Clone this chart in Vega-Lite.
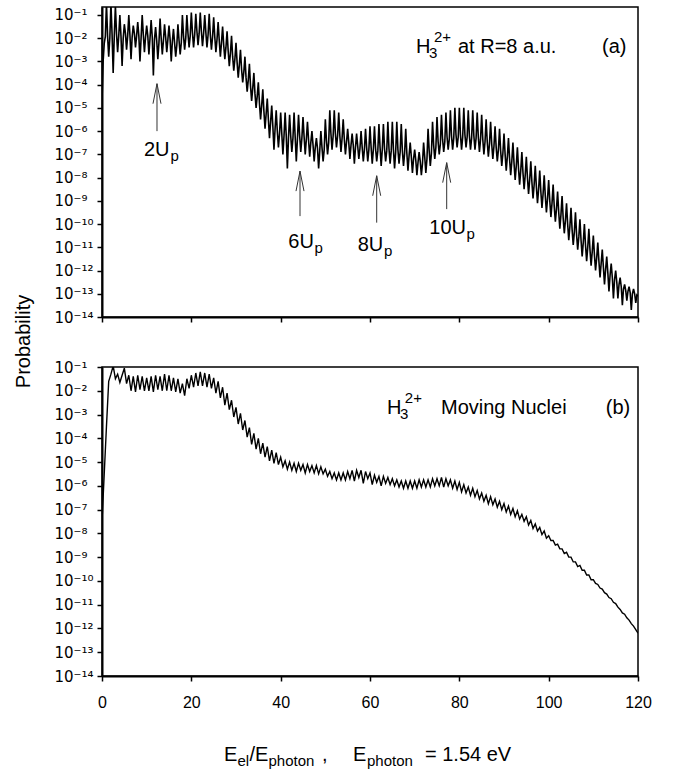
{
"$schema": "https://vega.github.io/schema/vega-lite/v6.json",
"padding": {"left": 12, "top": 6, "right": 5, "bottom": 2},
"bounds": "flush",
"spacing": 50,
"config": {
  "font": "Liberation Sans",
  "view": {"stroke": "black", "strokeWidth": 1.5},
  "axis": {"domainColor": "black", "domainWidth": 2, "tickColor": "black", "tickWidth": 1.5, "tickSize": 5, "labelColor": "black", "labelFontSize": 16, "labelFont": "Liberation Sans", "grid": false, "titleColor": "black", "labelOverlap": false, "labelFlush": false}
},
"datasets": {
"a": [
{"x":0,"y":2e-5},{"x":0.25,"y":1e-3},{"x":0.5,"y":6e-3},{"x":0.75,"y":1.2e-2},
{"x":1,"y":0.32},{"x":1.25,"y":1.26e-2},{"x":1.5,"y":1.6e-3},{"x":1.75,"y":1e-2},
{"x":2,"y":0.32},{"x":2.25,"y":1.6e-2},{"x":2.5,"y":3.2e-4},{"x":2.75,"y":1.26e-2},
{"x":3,"y":0.25},{"x":3.25,"y":1.6e-2},{"x":3.5,"y":2.5e-3},{"x":3.75,"y":1.26e-2},
{"x":4,"y":0.1},{"x":4.25,"y":1.26e-2},{"x":4.5,"y":6.3e-4},{"x":4.75,"y":1e-2},
{"x":5,"y":4e-2},{"x":5.25,"y":1.6e-2},{"x":5.5,"y":3.2e-3},{"x":5.75,"y":1.26e-2},
{"x":6,"y":0.1},{"x":6.25,"y":1.41e-2},{"x":6.5,"y":1.26e-3},{"x":6.75,"y":1.12e-2},
{"x":7,"y":3.5e-2},{"x":7.25,"y":1.6e-2},{"x":7.5,"y":4e-3},{"x":7.75,"y":1.26e-2},
{"x":8,"y":5e-2},{"x":8.25,"y":1.26e-2},{"x":8.5,"y":1e-3},{"x":8.75,"y":1e-2},
{"x":9,"y":0.1},{"x":9.25,"y":1.41e-2},{"x":9.5,"y":2.5e-3},{"x":9.75,"y":1.12e-2},
{"x":10,"y":3.5e-2},{"x":10.25,"y":1.26e-2},{"x":10.5,"y":2e-3},{"x":10.75,"y":1e-2},
{"x":11,"y":6e-2},{"x":11.25,"y":1.12e-2},{"x":11.5,"y":2.5e-4},{"x":11.75,"y":8.9e-3},
{"x":12,"y":3e-2},{"x":12.25,"y":7.9e-3},{"x":12.5,"y":1.26e-3},{"x":12.75,"y":6.3e-3},
{"x":13,"y":7e-2},{"x":13.25,"y":1e-2},{"x":13.5,"y":2e-3},{"x":13.75,"y":7.9e-3},
{"x":14,"y":4e-2},{"x":14.25,"y":1.12e-2},{"x":14.5,"y":2.5e-3},{"x":14.75,"y":8.9e-3},
{"x":15,"y":3.5e-2},{"x":15.25,"y":8.9e-3},{"x":15.5,"y":1e-3},{"x":15.75,"y":7.1e-3},
{"x":16,"y":2.5e-2},{"x":16.25,"y":6.3e-3},{"x":16.5,"y":1.6e-3},{"x":16.75,"y":5e-3},
{"x":17,"y":4e-2},{"x":17.25,"y":7.9e-3},{"x":17.5,"y":2e-3},{"x":17.75,"y":6.3e-3},
{"x":18,"y":0.1},{"x":18.25,"y":1.26e-2},{"x":18.5,"y":3.2e-3},{"x":18.75,"y":1e-2},
{"x":19,"y":0.1},{"x":19.25,"y":1.6e-2},{"x":19.5,"y":4e-3},{"x":19.75,"y":1.26e-2},
{"x":20,"y":0.126},{"x":20.25,"y":1.78e-2},{"x":20.5,"y":4e-3},{"x":20.75,"y":1.41e-2},
{"x":21,"y":0.112},{"x":21.25,"y":2e-2},{"x":21.5,"y":5e-3},{"x":21.75,"y":1.6e-2},
{"x":22,"y":0.126},{"x":22.25,"y":2e-2},{"x":22.5,"y":4.5e-3},{"x":22.75,"y":1.6e-2},
{"x":23,"y":0.1},{"x":23.25,"y":1.78e-2},{"x":23.5,"y":4e-3},{"x":23.75,"y":1.41e-2},
{"x":24,"y":0.112},{"x":24.25,"y":1.41e-2},{"x":24.5,"y":3.2e-3},{"x":24.75,"y":1.12e-2},
{"x":25,"y":7.9e-2},{"x":25.25,"y":1.12e-2},{"x":25.5,"y":2.5e-3},{"x":25.75,"y":8.9e-3},
{"x":26,"y":5e-2},{"x":26.25,"y":7.9e-3},{"x":26.5,"y":1.6e-3},{"x":26.75,"y":6.3e-3},
{"x":27,"y":3.2e-2},{"x":27.25,"y":5e-3},{"x":27.5,"y":1.26e-3},{"x":27.75,"y":4e-3},
{"x":28,"y":2e-2},{"x":28.25,"y":2.8e-3},{"x":28.5,"y":6.3e-4},{"x":28.75,"y":2.24e-3},
{"x":29,"y":1.26e-2},{"x":29.25,"y":1.6e-3},{"x":29.5,"y":4e-4},{"x":29.75,"y":1.26e-3},
{"x":30,"y":6.3e-3},{"x":30.25,"y":8.9e-4},{"x":30.5,"y":2e-4},{"x":30.75,"y":7.1e-4},
{"x":31,"y":3.2e-3},{"x":31.25,"y":4.5e-4},{"x":31.5,"y":1.26e-4},{"x":31.75,"y":3.5e-4},
{"x":32,"y":1.6e-3},{"x":32.25,"y":2e-4},{"x":32.5,"y":5e-5},{"x":32.75,"y":1.6e-4},
{"x":33,"y":7.9e-4},{"x":33.25,"y":8.9e-5},{"x":33.5,"y":2e-5},{"x":33.75,"y":7.1e-5},
{"x":34,"y":3.2e-4},{"x":34.25,"y":4e-5},{"x":34.5,"y":1e-5},{"x":34.75,"y":3.2e-5},
{"x":35,"y":1.26e-4},{"x":35.25,"y":1.6e-5},{"x":35.5,"y":3.2e-6},{"x":35.75,"y":1.26e-5},
{"x":36,"y":6.3e-5},{"x":36.25,"y":7.1e-6},{"x":36.5,"y":1.26e-6},{"x":36.75,"y":5.6e-6},
{"x":37,"y":2.5e-5},{"x":37.25,"y":3.2e-6},{"x":37.5,"y":5e-7},{"x":37.75,"y":2.5e-6},
{"x":38,"y":1.26e-5},{"x":38.25,"y":1.6e-6},{"x":38.5,"y":1.6e-7},{"x":38.75,"y":1.26e-6},
{"x":39,"y":7.9e-6},{"x":39.25,"y":1e-6},{"x":39.5,"y":2e-7},{"x":39.75,"y":7.9e-7},
{"x":40,"y":6.3e-6},{"x":40.25,"y":7.9e-7},{"x":40.5,"y":1e-7},{"x":40.75,"y":6.3e-7},
{"x":41,"y":6.3e-6},{"x":41.25,"y":6.3e-7},{"x":41.5,"y":2.5e-8},{"x":41.75,"y":5e-7},
{"x":42,"y":5e-6},{"x":42.25,"y":6.3e-7},{"x":42.5,"y":1.26e-7},{"x":42.75,"y":5e-7},
{"x":43,"y":6.3e-6},{"x":43.25,"y":5.6e-7},{"x":43.5,"y":5e-8},{"x":43.75,"y":4.5e-7},
{"x":44,"y":5e-6},{"x":44.25,"y":6.3e-7},{"x":44.5,"y":1.26e-7},{"x":44.75,"y":5e-7},
{"x":45,"y":4e-6},{"x":45.25,"y":5.6e-7},{"x":45.5,"y":1e-7},{"x":45.75,"y":4.5e-7},
{"x":46,"y":2.5e-6},{"x":46.25,"y":4e-7},{"x":46.5,"y":7.9e-8},{"x":46.75,"y":3.2e-7},
{"x":47,"y":1e-6},{"x":47.25,"y":2.5e-7},{"x":47.5,"y":5e-8},{"x":47.75,"y":2e-7},
{"x":48,"y":5e-7},{"x":48.25,"y":1.78e-7},{"x":48.5,"y":2.5e-8},{"x":48.75,"y":1.41e-7},
{"x":49,"y":1e-6},{"x":49.25,"y":2e-7},{"x":49.5,"y":5e-8},{"x":49.75,"y":1.6e-7},
{"x":50,"y":3.2e-6},{"x":50.25,"y":4e-7},{"x":50.5,"y":1e-7},{"x":50.75,"y":3.2e-7},
{"x":51,"y":7.9e-6},{"x":51.25,"y":7.9e-7},{"x":51.5,"y":1.6e-7},{"x":51.75,"y":6.3e-7},
{"x":52,"y":7.9e-6},{"x":52.25,"y":7.9e-7},{"x":52.5,"y":2e-7},{"x":52.75,"y":6.3e-7},
{"x":53,"y":6.3e-6},{"x":53.25,"y":6.3e-7},{"x":53.5,"y":1.26e-7},{"x":53.75,"y":5e-7},
{"x":54,"y":3.2e-6},{"x":54.25,"y":4.5e-7},{"x":54.5,"y":1e-7},{"x":54.75,"y":3.5e-7},
{"x":55,"y":1.26e-6},{"x":55.25,"y":3.2e-7},{"x":55.5,"y":6.3e-8},{"x":55.75,"y":2.5e-7},
{"x":56,"y":7.9e-7},{"x":56.25,"y":2.5e-7},{"x":56.5,"y":4e-8},{"x":56.75,"y":2e-7},
{"x":57,"y":7.9e-7},{"x":57.25,"y":2.24e-7},{"x":57.5,"y":6.3e-8},{"x":57.75,"y":1.78e-7},
{"x":58,"y":1e-6},{"x":58.25,"y":2e-7},{"x":58.5,"y":5e-8},{"x":58.75,"y":1.6e-7},
{"x":59,"y":1.26e-6},{"x":59.25,"y":2e-7},{"x":59.5,"y":5e-8},{"x":59.75,"y":1.6e-7},
{"x":60,"y":1.6e-6},{"x":60.25,"y":2e-7},{"x":60.5,"y":4e-8},{"x":60.75,"y":1.6e-7},
{"x":61,"y":1.6e-6},{"x":61.25,"y":1.78e-7},{"x":61.5,"y":5e-8},{"x":61.75,"y":1.41e-7},
{"x":62,"y":2e-6},{"x":62.25,"y":2e-7},{"x":62.5,"y":3.2e-8},{"x":62.75,"y":1.6e-7},
{"x":63,"y":2e-6},{"x":63.25,"y":1.78e-7},{"x":63.5,"y":5e-8},{"x":63.75,"y":1.41e-7},
{"x":64,"y":2.5e-6},{"x":64.25,"y":1.78e-7},{"x":64.5,"y":4e-8},{"x":64.75,"y":1.41e-7},
{"x":65,"y":2.5e-6},{"x":65.25,"y":1.6e-7},{"x":65.5,"y":2.5e-8},{"x":65.75,"y":1.26e-7},
{"x":66,"y":2.5e-6},{"x":66.25,"y":1.6e-7},{"x":66.5,"y":4e-8},{"x":66.75,"y":1.26e-7},
{"x":67,"y":2e-6},{"x":67.25,"y":1.41e-7},{"x":67.5,"y":3.2e-8},{"x":67.75,"y":1.12e-7},
{"x":68,"y":1.26e-6},{"x":68.25,"y":1.12e-7},{"x":68.5,"y":2e-8},{"x":68.75,"y":8.9e-8},
{"x":69,"y":3.2e-7},{"x":69.25,"y":7.9e-8},{"x":69.5,"y":1.6e-8},{"x":69.75,"y":6.3e-8},
{"x":70,"y":1.6e-7},{"x":70.25,"y":5.6e-8},{"x":70.5,"y":1.26e-8},{"x":70.75,"y":4.5e-8},
{"x":71,"y":1.26e-7},{"x":71.25,"y":5e-8},{"x":71.5,"y":1.26e-8},{"x":71.75,"y":4e-8},
{"x":72,"y":3.2e-7},{"x":72.25,"y":7.9e-8},{"x":72.5,"y":1.6e-8},{"x":72.75,"y":6.3e-8},
{"x":73,"y":1.26e-6},{"x":73.25,"y":1.41e-7},{"x":73.5,"y":3.2e-8},{"x":73.75,"y":1.12e-7},
{"x":74,"y":2.5e-6},{"x":74.25,"y":2.5e-7},{"x":74.5,"y":6.3e-8},{"x":74.75,"y":2e-7},
{"x":75,"y":4e-6},{"x":75.25,"y":3.5e-7},{"x":75.5,"y":1e-7},{"x":75.75,"y":2.8e-7},
{"x":76,"y":5e-6},{"x":76.25,"y":4.5e-7},{"x":76.5,"y":1.26e-7},{"x":76.75,"y":3.5e-7},
{"x":77,"y":6.3e-6},{"x":77.25,"y":5.6e-7},{"x":77.5,"y":1.6e-7},{"x":77.75,"y":4.5e-7},
{"x":78,"y":7.9e-6},{"x":78.25,"y":6.3e-7},{"x":78.5,"y":1.6e-7},{"x":78.75,"y":5e-7},
{"x":79,"y":1e-5},{"x":79.25,"y":7.1e-7},{"x":79.5,"y":2e-7},{"x":79.75,"y":5.6e-7},
{"x":80,"y":1e-5},{"x":80.25,"y":7.1e-7},{"x":80.5,"y":1.6e-7},{"x":80.75,"y":5.6e-7},
{"x":81,"y":1e-5},{"x":81.25,"y":7.1e-7},{"x":81.5,"y":2e-7},{"x":81.75,"y":5.6e-7},
{"x":82,"y":7.9e-6},{"x":82.25,"y":6.3e-7},{"x":82.5,"y":1.6e-7},{"x":82.75,"y":5e-7},
{"x":83,"y":7.9e-6},{"x":83.25,"y":6.3e-7},{"x":83.5,"y":1.6e-7},{"x":83.75,"y":5e-7},
{"x":84,"y":6.3e-6},{"x":84.25,"y":5.6e-7},{"x":84.5,"y":1.26e-7},{"x":84.75,"y":4.5e-7},
{"x":85,"y":5e-6},{"x":85.25,"y":4.5e-7},{"x":85.5,"y":1e-7},{"x":85.75,"y":3.5e-7},
{"x":86,"y":3.2e-6},{"x":86.25,"y":3.5e-7},{"x":86.5,"y":7.9e-8},{"x":86.75,"y":2.8e-7},
{"x":87,"y":2.5e-6},{"x":87.25,"y":2.8e-7},{"x":87.5,"y":6.3e-8},{"x":87.75,"y":2.24e-7},
{"x":88,"y":1.6e-6},{"x":88.25,"y":2e-7},{"x":88.5,"y":5e-8},{"x":88.75,"y":1.6e-7},
{"x":89,"y":1.26e-6},{"x":89.25,"y":1.41e-7},{"x":89.5,"y":3.2e-8},{"x":89.75,"y":1.12e-7},
{"x":90,"y":7.9e-7},{"x":90.25,"y":1e-7},{"x":90.5,"y":2e-8},{"x":90.75,"y":7.9e-8},
{"x":91,"y":5e-7},{"x":91.25,"y":6.3e-8},{"x":91.5,"y":1.26e-8},{"x":91.75,"y":5e-8},
{"x":92,"y":3.2e-7},{"x":92.25,"y":4e-8},{"x":92.5,"y":7.9e-9},{"x":92.75,"y":3.2e-8},
{"x":93,"y":2e-7},{"x":93.25,"y":2.5e-8},{"x":93.5,"y":5e-9},{"x":93.75,"y":2e-8},
{"x":94,"y":1.26e-7},{"x":94.25,"y":1.6e-8},{"x":94.5,"y":3.2e-9},{"x":94.75,"y":1.26e-8},
{"x":95,"y":7.9e-8},{"x":95.25,"y":1e-8},{"x":95.5,"y":2e-9},{"x":95.75,"y":7.9e-9},
{"x":96,"y":5e-8},{"x":96.25,"y":6.3e-9},{"x":96.5,"y":1.26e-9},{"x":96.75,"y":5e-9},
{"x":97,"y":3.2e-8},{"x":97.25,"y":4e-9},{"x":97.5,"y":7.9e-10},{"x":97.75,"y":3.2e-9},
{"x":98,"y":2e-8},{"x":98.25,"y":2.5e-9},{"x":98.5,"y":5e-10},{"x":98.75,"y":2e-9},
{"x":99,"y":1.26e-8},{"x":99.25,"y":1.6e-9},{"x":99.5,"y":3.2e-10},{"x":99.75,"y":1.26e-9},
{"x":100,"y":7.9e-9},{"x":100.25,"y":1e-9},{"x":100.5,"y":2e-10},{"x":100.75,"y":7.9e-10},
{"x":101,"y":5e-9},{"x":101.25,"y":5.6e-10},{"x":101.5,"y":1.26e-10},{"x":101.75,"y":4.5e-10},
{"x":102,"y":2.5e-9},{"x":102.25,"y":3.2e-10},{"x":102.5,"y":6.3e-11},{"x":102.75,"y":2.5e-10},
{"x":103,"y":1.6e-9},{"x":103.25,"y":1.78e-10},{"x":103.5,"y":4e-11},{"x":103.75,"y":1.41e-10},
{"x":104,"y":7.9e-10},{"x":104.25,"y":1e-10},{"x":104.5,"y":2e-11},{"x":104.75,"y":7.9e-11},
{"x":105,"y":5e-10},{"x":105.25,"y":5.6e-11},{"x":105.5,"y":1.26e-11},{"x":105.75,"y":4.5e-11},
{"x":106,"y":3.2e-10},{"x":106.25,"y":3.5e-11},{"x":106.5,"y":7.9e-12},{"x":106.75,"y":2.8e-11},
{"x":107,"y":1.6e-10},{"x":107.25,"y":2e-11},{"x":107.5,"y":4e-12},{"x":107.75,"y":1.6e-11},
{"x":108,"y":1e-10},{"x":108.25,"y":1.26e-11},{"x":108.5,"y":2.5e-12},{"x":108.75,"y":1e-11},
{"x":109,"y":6.3e-11},{"x":109.25,"y":7.9e-12},{"x":109.5,"y":1.6e-12},{"x":109.75,"y":6.3e-12},
{"x":110,"y":3.2e-11},{"x":110.25,"y":4.5e-12},{"x":110.5,"y":1e-12},{"x":110.75,"y":3.5e-12},
{"x":111,"y":1.6e-11},{"x":111.25,"y":2.5e-12},{"x":111.5,"y":5e-13},{"x":111.75,"y":2e-12},
{"x":112,"y":7.9e-12},{"x":112.25,"y":1.41e-12},{"x":112.5,"y":2.5e-13},{"x":112.75,"y":1.12e-12},
{"x":113,"y":4e-12},{"x":113.25,"y":7.9e-13},{"x":113.5,"y":1.26e-13},{"x":113.75,"y":6.3e-13},
{"x":114,"y":2e-12},{"x":114.25,"y":5e-13},{"x":114.5,"y":6.3e-14},{"x":114.75,"y":4e-13},
{"x":115,"y":1e-12},{"x":115.25,"y":3.2e-13},{"x":115.5,"y":6.3e-14},{"x":115.75,"y":2.5e-13},
{"x":116,"y":5e-13},{"x":116.25,"y":2e-13},{"x":116.5,"y":3.2e-14},{"x":116.75,"y":1.6e-13},
{"x":117,"y":2.5e-13},{"x":117.25,"y":1.41e-13},{"x":117.5,"y":5e-14},{"x":117.75,"y":1.26e-13},
{"x":118,"y":2e-13},{"x":118.25,"y":1.12e-13},{"x":118.5,"y":2e-14},{"x":118.75,"y":1e-13},
{"x":119,"y":1.6e-13},{"x":119.25,"y":1e-13},{"x":119.5,"y":4e-14},{"x":119.75,"y":8.9e-14},
{"x":120,"y":7.9e-14}
],
"b": [
{"x":0,"y":3.2e-8},{"x":0.5,"y":3.2e-6},{"x":1,"y":3.2e-4},{"x":1.5,"y":2.5e-2},{"x":2,"y":5e-2},{"x":2.5,"y":0.112},{"x":3,"y":3.2e-2},{"x":3.5,"y":5e-2},{"x":4,"y":2.24e-2},{"x":4.5,"y":4.5e-2},
{"x":5,"y":8.9e-2},{"x":5.5,"y":2e-2},{"x":6,"y":4.5e-2},{"x":6.5,"y":1e-2},{"x":7,"y":4e-2},{"x":7.5,"y":8.9e-3},{"x":8,"y":4.5e-2},{"x":8.5,"y":1.12e-2},{"x":9,"y":4e-2},{"x":9.5,"y":1e-2},
{"x":10,"y":3.5e-2},{"x":10.5,"y":1e-2},{"x":11,"y":4e-2},{"x":11.5,"y":8.9e-3},{"x":12,"y":4.5e-2},{"x":12.5,"y":1.12e-2},{"x":13,"y":4e-2},{"x":13.5,"y":1e-2},{"x":14,"y":5e-2},{"x":14.5,"y":1e-2},
{"x":15,"y":4.5e-2},{"x":15.5,"y":1e-2},{"x":16,"y":3.5e-2},{"x":16.5,"y":8.9e-3},{"x":17,"y":3.2e-2},{"x":17.5,"y":7.9e-3},{"x":18,"y":2e-2},{"x":18.5,"y":6.3e-3},{"x":19,"y":3.2e-2},{"x":19.5,"y":1.26e-2},
{"x":20,"y":4.5e-2},{"x":20.5,"y":1.41e-2},{"x":21,"y":5.6e-2},{"x":21.5,"y":1.6e-2},{"x":22,"y":6.3e-2},{"x":22.5,"y":1.6e-2},{"x":23,"y":5.6e-2},{"x":23.5,"y":1.41e-2},{"x":24,"y":5e-2},{"x":24.5,"y":1.26e-2},
{"x":25,"y":3.5e-2},{"x":25.5,"y":7.9e-3},{"x":26,"y":2.5e-2},{"x":26.5,"y":5e-3},{"x":27,"y":1.41e-2},{"x":27.5,"y":2.5e-3},{"x":28,"y":7.9e-3},{"x":28.5,"y":1.6e-3},{"x":29,"y":4e-3},{"x":29.5,"y":7.9e-4},
{"x":30,"y":2e-3},{"x":30.5,"y":4e-4},{"x":31,"y":1.12e-3},{"x":31.5,"y":2.24e-4},{"x":32,"y":5.6e-4},{"x":32.5,"y":1.12e-4},{"x":33,"y":2.8e-4},{"x":33.5,"y":5.6e-5},{"x":34,"y":1.6e-4},{"x":34.5,"y":3.5e-5},
{"x":35,"y":1e-4},{"x":35.5,"y":2.24e-5},{"x":36,"y":6.3e-5},{"x":36.5,"y":1.6e-5},{"x":37,"y":4.5e-5},{"x":37.5,"y":1.12e-5},{"x":38,"y":3.2e-5},{"x":38.5,"y":8.9e-6},{"x":39,"y":2.5e-5},{"x":39.5,"y":7.9e-6},
{"x":40,"y":1.6e-5},{"x":40.5,"y":6.3e-6},{"x":41,"y":1.12e-5},{"x":41.5,"y":5e-6},{"x":42,"y":1e-5},{"x":42.5,"y":4.5e-6},{"x":43,"y":8.9e-6},{"x":43.5,"y":4e-6},{"x":44,"y":8.9e-6},{"x":44.5,"y":4.5e-6},
{"x":45,"y":7.9e-6},{"x":45.5,"y":3.5e-6},{"x":46,"y":7.9e-6},{"x":46.5,"y":4e-6},{"x":47,"y":7.1e-6},{"x":47.5,"y":3.5e-6},{"x":48,"y":7.1e-6},{"x":48.5,"y":3.2e-6},{"x":49,"y":6.3e-6},{"x":49.5,"y":3.2e-6},
{"x":50,"y":5e-6},{"x":50.5,"y":2.5e-6},{"x":51,"y":4e-6},{"x":51.5,"y":2e-6},{"x":52,"y":3.5e-6},{"x":52.5,"y":1.78e-6},{"x":53,"y":3.5e-6},{"x":53.5,"y":1.78e-6},{"x":54,"y":3.5e-6},{"x":54.5,"y":1.78e-6},
{"x":55,"y":4e-6},{"x":55.5,"y":2e-6},{"x":56,"y":4.5e-6},{"x":56.5,"y":1.6e-6},{"x":57,"y":4.5e-6},{"x":57.5,"y":2.24e-6},{"x":58,"y":4.5e-6},{"x":58.5,"y":1.26e-6},{"x":59,"y":4e-6},{"x":59.5,"y":2e-6},
{"x":60,"y":3.5e-6},{"x":60.5,"y":1.12e-6},{"x":61,"y":2.8e-6},{"x":61.5,"y":1.41e-6},{"x":62,"y":2.5e-6},{"x":62.5,"y":1e-6},{"x":63,"y":2.5e-6},{"x":63.5,"y":1.26e-6},{"x":64,"y":2.24e-6},{"x":64.5,"y":1.12e-6},
{"x":65,"y":2e-6},{"x":65.5,"y":1e-6},{"x":66,"y":1.78e-6},{"x":66.5,"y":8.9e-7},{"x":67,"y":1.6e-6},{"x":67.5,"y":7.9e-7},{"x":68,"y":1.6e-6},{"x":68.5,"y":7.9e-7},{"x":69,"y":1.6e-6},{"x":69.5,"y":7.9e-7},
{"x":70,"y":1.6e-6},{"x":70.5,"y":7.9e-7},{"x":71,"y":1.78e-6},{"x":71.5,"y":8.9e-7},{"x":72,"y":1.78e-6},{"x":72.5,"y":8.9e-7},{"x":73,"y":1.78e-6},{"x":73.5,"y":8.9e-7},{"x":74,"y":2e-6},{"x":74.5,"y":1e-6},
{"x":75,"y":2e-6},{"x":75.5,"y":1e-6},{"x":76,"y":2.24e-6},{"x":76.5,"y":8.9e-7},{"x":77,"y":2e-6},{"x":77.5,"y":1e-6},{"x":78,"y":1.78e-6},{"x":78.5,"y":7.9e-7},{"x":79,"y":1.6e-6},{"x":79.5,"y":7.1e-7},
{"x":80,"y":1.41e-6},{"x":80.5,"y":5.6e-7},{"x":81,"y":1.12e-6},{"x":81.5,"y":5e-7},{"x":82,"y":8.9e-7},{"x":82.5,"y":4e-7},{"x":83,"y":7.9e-7},{"x":83.5,"y":3.5e-7},{"x":84,"y":6.3e-7},{"x":84.5,"y":2.8e-7},
{"x":85,"y":5e-7},{"x":85.5,"y":2.24e-7},{"x":86,"y":4e-7},{"x":86.5,"y":1.78e-7},{"x":87,"y":3.5e-7},{"x":87.5,"y":1.6e-7},{"x":88,"y":2.8e-7},{"x":88.5,"y":1.26e-7},{"x":89,"y":2.24e-7},{"x":89.5,"y":1e-7},
{"x":90,"y":1.78e-7},{"x":90.5,"y":7.9e-8},{"x":91,"y":1.41e-7},{"x":91.5,"y":6.3e-8},{"x":92,"y":1.12e-7},{"x":92.5,"y":5e-8},{"x":93,"y":8.9e-8},{"x":93.5,"y":4e-8},{"x":94,"y":6.3e-8},{"x":94.5,"y":3.2e-8},
{"x":95,"y":5e-8},{"x":95.5,"y":2.24e-8},{"x":96,"y":3.5e-8},{"x":96.5,"y":1.6e-8},{"x":97,"y":2.5e-8},{"x":97.5,"y":1.26e-8},{"x":98,"y":1.78e-8},{"x":98.5,"y":8.9e-9},{"x":99,"y":1.26e-8},{"x":99.5,"y":6.3e-9},
{"x":100,"y":7.9e-9},{"x":100.5,"y":5e-9},{"x":101,"y":5e-9},{"x":101.5,"y":3.2e-9},{"x":102,"y":3.5e-9},{"x":102.5,"y":2.24e-9},{"x":103,"y":2.24e-9},{"x":103.5,"y":1.41e-9},{"x":104,"y":1.6e-9},{"x":104.5,"y":1e-9},
{"x":105,"y":1e-9},{"x":105.5,"y":6.3e-10},{"x":106,"y":6.3e-10},{"x":106.5,"y":4e-10},{"x":107,"y":4.5e-10},{"x":107.5,"y":2.8e-10},{"x":108,"y":2.8e-10},{"x":108.5,"y":1.78e-10},{"x":109,"y":1.78e-10},{"x":109.5,"y":1.12e-10},
{"x":110,"y":1.12e-10},{"x":110.5,"y":7.9e-11},{"x":111,"y":7.1e-11},{"x":111.5,"y":5e-11},{"x":112,"y":4.5e-11},{"x":112.5,"y":3.2e-11},{"x":113,"y":2.8e-11},{"x":113.5,"y":2e-11},{"x":114,"y":1.78e-11},{"x":114.5,"y":1.26e-11},
{"x":115,"y":1.12e-11},{"x":115.5,"y":7.9e-12},{"x":116,"y":6.3e-12},{"x":116.5,"y":4.5e-12},{"x":117,"y":4e-12},{"x":117.5,"y":2.8e-12},{"x":118,"y":2.24e-12},{"x":118.5,"y":1.6e-12},{"x":119,"y":1.26e-12},{"x":119.5,"y":8.9e-13},
{"x":120,"y":6.3e-13}
],
"arrows": [
{"x":12.31,"tip":1.1e-4,"tail":1.0e-6},
{"x":44.33,"tip":1.9e-8,"tail":2.2e-10},
{"x":61.5,"tip":1.2e-8,"tail":1.15e-10},
{"x":77.17,"tip":4.4e-8,"tail":4.4e-10}
],
"la_main": [
{"x":9.4,"y":8.5e-8,"t":"2U"},
{"x":41.71,"y":9.5e-12,"t":"6U"},
{"x":57.25,"y":6.9e-12,"t":"8U"},
{"x":73.28,"y":3.6e-11,"t":"10U"},
{"x":70.3,"y":2.31e-3,"t":"H"},
{"x":79.7,"y":2.31e-3,"t":"at R=8 a.u."},
{"x":111.94,"y":2.31e-3,"t":"(a)"}
],
"la_sub": [
{"x":15.34,"y":8.5e-8,"t":"p"},
{"x":47.57,"y":9.5e-12,"t":"p"},
{"x":63.13,"y":6.9e-12,"t":"p"},
{"x":81.6,"y":3.6e-11,"t":"p"},
{"x":73.2,"y":2.31e-3,"t":"3"}
],
"la_sup": [
{"x":74.33,"y":2.31e-3,"t":"2+"}
],
"lb_main": [
{"x":63.8,"y":1.05e-3,"t":"H"},
{"x":75.9,"y":1.05e-3,"t":"Moving Nuclei"},
{"x":112.8,"y":1.05e-3,"t":"(b)"},
{"x":27.31,"y":2.66e-18,"t":"E"},
{"x":33.02,"y":2.66e-18,"t":"/E"},
{"x":49.25,"y":2.66e-18,"t":","},
{"x":56.19,"y":2.66e-18,"t":"E"},
{"x":72.31,"y":2.66e-18,"t":"= 1.54 eV"}
],
"lb_sub": [
{"x":66.7,"y":1.05e-3,"t":"3"},
{"x":30.34,"y":2.66e-18,"t":"el"},
{"x":37.28,"y":2.66e-18,"t":"photon"},
{"x":59.33,"y":2.66e-18,"t":"photon"}
],
"lb_sup": [
{"x":67.8,"y":1.05e-3,"t":"2+"}
]
},
"vconcat": [
{
 "width": 536, "height": 310,
 "layer": [
  {"data": {"name": "a"},
   "mark": {"type": "line", "clip": true, "color": "black", "strokeWidth": 1.6},
   "encoding": {
    "x": {"field": "x", "type": "quantitative", "scale": {"domain": [0, 120], "nice": false, "zero": false},
          "axis": {"values": [0,20,40,60,80,100,120], "labels": false, "title": null}},
    "y": {"field": "y", "type": "quantitative", "scale": {"type": "log", "domain": [1e-14, 0.22], "nice": false},
          "axis": {"values": [1e-14,1e-13,1e-12,1e-11,1e-10,1e-9,1e-8,1e-7,1e-6,1e-5,1e-4,1e-3,1e-2,1e-1],
                   "labelExpr": "'10' + ['⁻¹⁴','⁻¹³','⁻¹²','⁻¹¹','⁻¹⁰','⁻⁹','⁻⁸','⁻⁷','⁻⁶','⁻⁵','⁻⁴','⁻³','⁻²','⁻¹'][round(log(datum.value)/LN10)+14]",
                   "labelAlign": "left", "labelPadding": 43, "labelFont": "DejaVu Sans", "labelFontSize": 15,
                   "title": "Probability", "titleFontSize": 20, "titleFontWeight": "normal", "titleFont": "Liberation Sans",
                   "titleX": -79, "titleY": 334, "titleAngle": 270, "titleAlign": "center", "titleBaseline": "middle"}}
   }},
  {"data": {"name": "arrows"},
   "mark": {"type": "rule", "color": "#333333", "strokeWidth": 1},
   "encoding": {"x": {"field": "x", "type": "quantitative"}, "y": {"field": "tip", "type": "quantitative"}, "y2": {"field": "tail"}}},
  {"data": {"name": "arrows"},
   "mark": {"type": "point", "shape": "M -0.5 2.5 L 0 0 L 0.5 2.5", "size": 256, "filled": false, "color": "#333333", "strokeWidth": 1, "opacity": 1},
   "encoding": {"x": {"field": "x", "type": "quantitative"}, "y": {"field": "tip", "type": "quantitative"}}},
  {"data": {"name": "la_main"},
   "mark": {"type": "text", "align": "left", "baseline": "alphabetic", "fontSize": 20, "color": "black"},
   "encoding": {"x": {"field": "x", "type": "quantitative"}, "y": {"field": "y", "type": "quantitative"}, "text": {"field": "t"}}},
  {"data": {"name": "la_sub"},
   "mark": {"type": "text", "align": "left", "baseline": "alphabetic", "fontSize": 15, "dy": 5, "color": "black"},
   "encoding": {"x": {"field": "x", "type": "quantitative"}, "y": {"field": "y", "type": "quantitative"}, "text": {"field": "t"}}},
  {"data": {"name": "la_sup"},
   "mark": {"type": "text", "align": "left", "baseline": "alphabetic", "fontSize": 15, "dy": -11, "color": "black"},
   "encoding": {"x": {"field": "x", "type": "quantitative"}, "y": {"field": "y", "type": "quantitative"}, "text": {"field": "t"}}}
 ]
},
{
 "width": 536, "height": 309,
 "layer": [
  {"data": {"name": "b"},
   "mark": {"type": "line", "clip": true, "color": "black", "strokeWidth": 1.4},
   "encoding": {
    "x": {"field": "x", "type": "quantitative", "scale": {"domain": [0, 120], "nice": false, "zero": false},
          "axis": {"values": [0,20,40,60,80,100,120], "labelPadding": 13, "title": null}},
    "y": {"field": "y", "type": "quantitative", "scale": {"type": "log", "domain": [1e-14, 0.1], "nice": false},
          "axis": {"values": [1e-14,1e-13,1e-12,1e-11,1e-10,1e-9,1e-8,1e-7,1e-6,1e-5,1e-4,1e-3,1e-2,1e-1],
                   "labelExpr": "'10' + ['⁻¹⁴','⁻¹³','⁻¹²','⁻¹¹','⁻¹⁰','⁻⁹','⁻⁸','⁻⁷','⁻⁶','⁻⁵','⁻⁴','⁻³','⁻²','⁻¹'][round(log(datum.value)/LN10)+14]",
                   "labelAlign": "left", "labelPadding": 43, "labelFont": "DejaVu Sans", "labelFontSize": 15, "title": null}}
   }},
  {"data": {"name": "lb_main"},
   "mark": {"type": "text", "align": "left", "baseline": "alphabetic", "fontSize": 20, "color": "black"},
   "encoding": {"x": {"field": "x", "type": "quantitative"}, "y": {"field": "y", "type": "quantitative"}, "text": {"field": "t"}}},
  {"data": {"name": "lb_sub"},
   "mark": {"type": "text", "align": "left", "baseline": "alphabetic", "fontSize": 15, "dy": 5, "color": "black"},
   "encoding": {"x": {"field": "x", "type": "quantitative"}, "y": {"field": "y", "type": "quantitative"}, "text": {"field": "t"}}},
  {"data": {"name": "lb_sup"},
   "mark": {"type": "text", "align": "left", "baseline": "alphabetic", "fontSize": 15, "dy": -11, "color": "black"},
   "encoding": {"x": {"field": "x", "type": "quantitative"}, "y": {"field": "y", "type": "quantitative"}, "text": {"field": "t"}}}
 ]
}
]
}
